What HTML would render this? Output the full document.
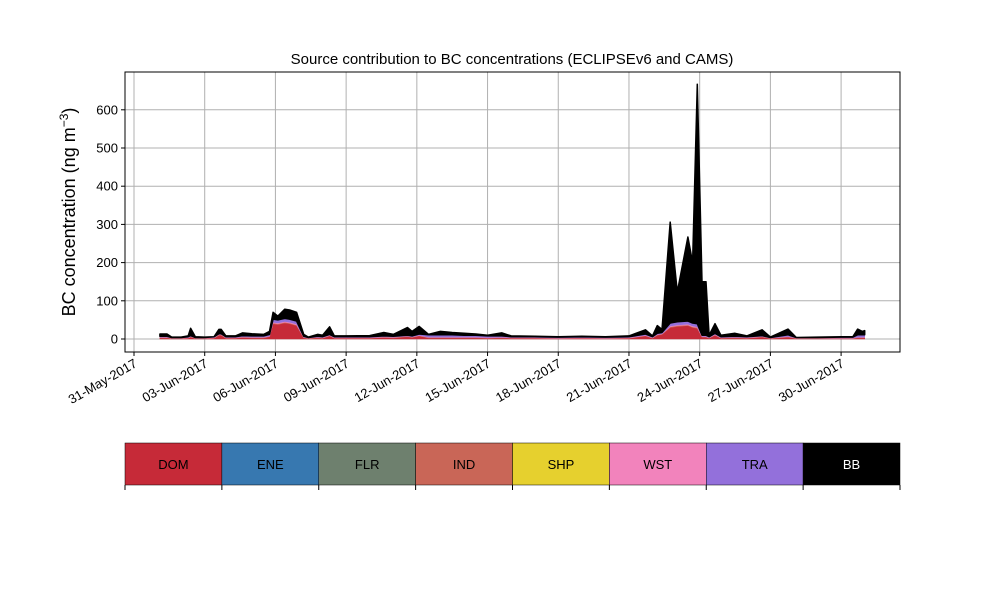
<!DOCTYPE html>
<html><head><meta charset="utf-8"><style>
body{margin:0;background:#fff;}
svg text{font-family:"Liberation Sans",sans-serif;}
</style></head><body>
<svg id="chart" width="1000" height="600" xmlns="http://www.w3.org/2000/svg">
<rect width="1000" height="600" fill="#fff"/>
<text x="512" y="64" font-size="15" text-anchor="middle">Source contribution to BC concentrations (ECLIPSEv6 and CAMS)</text>
<text transform="translate(75,212) rotate(-90)" font-size="18" text-anchor="middle">BC concentration (ng m<tspan baseline-shift="super" font-size="12">−3</tspan>)</text>
<g id="grid"></g><g id="areas"></g><g id="axes"></g><g id="legend"></g>
</svg>
<script>
const days=[1.1,1.4,1.6,2.0,2.3,2.4,2.6,3.0,3.4,3.6,3.7,3.9,4.3,4.6,5.0,5.5,5.75,5.9,6.1,6.4,6.6,6.9,7.2,7.4,7.8,8.0,8.3,8.5,9.0,10.0,10.6,11.0,11.6,11.8,12.1,12.5,13.0,13.5,14.0,14.5,15.0,15.6,16.0,17.0,18.0,19.0,20.0,21.0,21.7,22.0,22.2,22.4,22.75,23.05,23.5,23.7,23.9,24.1,24.27,24.4,24.65,24.9,25.5,26.0,26.65,27.0,27.75,28.1,29.0,30.0,30.5,30.7,30.9,31.0];
const total=[13,13,5,5,8,28,6,5,6,25,25,8,8,16,14,12,20,70,60,78,76,70,12,5,12,10,32,8,8,9,17,12,30,20,33,12,20,17,15,13,10,16,8,7,6,7,6,8,24,8,35,25,306,123,267,200,667,150,150,10,40,10,15,8,24,5,26,3,5,6,6,26,20,22];
const dom=[3,3,1,1,2,5,1,1,2,10,10,2,2,4,3,3,6,40,38,42,40,35,3,1,3,2,8,2,2,2,4,3,6,4,8,3,3,3,3,3,2,3,2,2,1,2,1,2,8,2,10,12,30,33,35,30,28,5,5,2,10,2,3,2,5,1,5,1,1,1,1,3,3,3];
const ind=[1,1,1,1,1,1,1,1,1,1,1,1,1,1,1,1,1,2,2,2,2,2,1,1,1,1,1,1,1,1,1,1,1,1,1,1,1,1,1,1,1,1,1,1,1,1,1,1,1,1,1,1,2,2,2,2,2,1,1,1,1,1,1,1,1,1,1,1,1,1,1,1,1,1];
const wst=[1,1,1,1,1,1,1,1,1,1,1,1,1,1,1,1,1,2,2,2,2,2,1,1,1,1,1,1,1,1,1,1,1,1,1,1,1,1,1,1,1,1,1,1,1,1,1,1,1,1,1,1,2,2,2,2,2,1,1,1,1,1,1,1,1,1,1,1,1,1,1,1,1,1];
const tra=[2,2,1,1,2,2,1,1,2,2,2,2,2,3,3,3,4,8,8,8,8,8,2,1,2,2,2,2,2,2,2,2,2,2,3,6,6,6,5,5,4,3,2,2,2,2,2,2,3,2,3,3,8,8,8,8,8,3,3,2,3,2,2,2,2,1,4,1,1,2,2,6,6,6];
const yTicks=[0,100,200,300,400,500,600];
const xTickDays=[0,3,6,9,12,15,18,21,24,27,30];
const xTickLabels=["31-May-2017","03-Jun-2017","06-Jun-2017","09-Jun-2017","12-Jun-2017","15-Jun-2017","18-Jun-2017","21-Jun-2017","24-Jun-2017","27-Jun-2017","30-Jun-2017"];
const legendNames=["DOM","ENE","FLR","IND","SHP","WST","TRA","BB"];
const legendColors=["#c62a38","#3778b0","#6e806e","#c96657","#e6d02e","#f283bc","#9370db","#000000"];
const NS="http://www.w3.org/2000/svg";
const L=125,R=900,T=72,B=352;
const X=d=>134+d*23.57;
const Y=v=>339-v*0.382;
function mk(tag,attrs,parent){const e=document.createElementNS(NS,tag);for(const k in attrs)e.setAttribute(k,attrs[k]);parent.appendChild(e);return e;}
const grid=document.getElementById('grid'),axes=document.getElementById('axes'),areas=document.getElementById('areas'),legend=document.getElementById('legend');
yTicks.forEach(v=>{
 const g=mk('line',{x1:L,x2:R,y1:Y(v),y2:Y(v),stroke:'#b0b0b0','stroke-width':1},grid);
 
 
 mk('line',{x1:L-4,x2:L,y1:Y(v),y2:Y(v),stroke:'#000'},axes);
 const t=mk('text',{x:L-7,y:Y(v)+4.5,'font-size':13,'text-anchor':'end'},axes);
 t.textContent=v;
 
 
});
xTickDays.forEach((d,i)=>{
 const g=mk('line',{x1:X(d),x2:X(d),y1:T,y2:B,stroke:'#b0b0b0','stroke-width':1},grid);
 
 
 mk('line',{x1:X(d),x2:X(d),y1:B,y2:B+4,stroke:'#000'},axes);
 const t=mk('text',{transform:`translate(${X(d)+4},${B+14}) rotate(-30)`,'font-size':13,'text-anchor':'end'},axes);
 t.textContent=xTickLabels[i];
 
 
});
const fr=mk('rect',{x:L,y:T,width:R-L,height:B-T,fill:'none',stroke:'#000','stroke-width':1},axes);


// stacked series: DOM, IND, WST, TRA, BB (ENE/FLR/SHP negligible)
const bb=total.map((t,i)=>Math.max(0,t-dom[i]-ind[i]-wst[i]-tra[i]));
const stack=[["DOM",dom,legendColors[0]],["IND",ind,legendColors[3]],["WST",wst,legendColors[5]],["TRA",tra,legendColors[6]],["BB",bb,legendColors[7]]];
let base=days.map(()=>0);
stack.forEach(([name,vals,col])=>{
 const top=base.map((b,i)=>b+vals[i]);
 let d='M'+days.map((t,i)=>X(t).toFixed(1)+','+Y(top[i]).toFixed(1)).join('L');
 for(let i=days.length-1;i>=0;i--)d+='L'+X(days[i]).toFixed(1)+','+Y(base[i]).toFixed(1);
 d+='Z';
 const p=mk('path',{d:d,fill:col,stroke:col,'stroke-width':name==='BB'?1.5:0.6,'stroke-linejoin':'round'},areas);
 
 
 base=top;
});
const w=(R-L)/legendNames.length;
legendNames.forEach((n,i)=>{
 const r=mk('rect',{x:L+i*w,y:443,width:w,height:42,fill:legendColors[i],stroke:'#000','stroke-width':0.5},legend);
 
 
 const t=mk('text',{x:L+i*w+w/2,y:469,'font-size':13,'text-anchor':'middle',fill:n==='BB'?'#fff':'#000'},legend);
 t.textContent=n;
 
 
});
for(let i=0;i<=legendNames.length;i++)mk('line',{x1:L+i*w,x2:L+i*w,y1:485,y2:490,stroke:'#000'},legend);
</script>
</body></html>
